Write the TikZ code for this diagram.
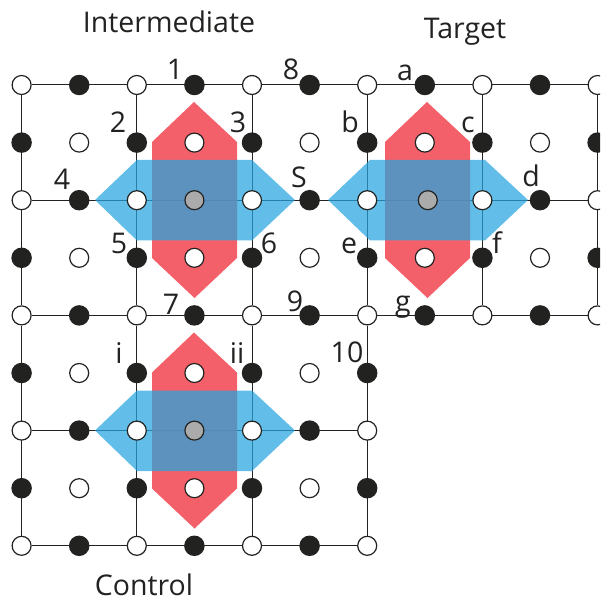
\documentclass[tikz,border=0pt]{standalone}
\usepackage{fontspec}
\setmainfont{Open Sans}
\usetikzlibrary{backgrounds}
\definecolor{inkc}{HTML}{222221}
\definecolor{patchred}{HTML}{F24450}
\definecolor{patchblue}{HTML}{25A5DF}
\tikzset{
    measqubit/.style = {circle, draw=inkc, fill=white, line width=1.2pt, minimum size=19pt, inner sep=0pt},
    dataqubit/.style = {circle, fill=inkc, minimum size=20.5pt, inner sep=0pt},
    centerqubit/.style = {circle, draw=inkc, fill=black!33, line width=1.2pt, minimum size=19pt, inner sep=0pt},
    targetqubit/.style = {centerqubit, xshift=3pt},
    gridline/.style = {draw=inkc, line width=1pt},
    lbl/.style = {anchor=base, inner sep=0pt, text=inkc, font=\fontsize{28.5}{32}\selectfont}
}
\begin{document}
\begin{tikzpicture}[x=1pt,y=-1pt]
    \path[use as bounding box,clip] (0,0) rectangle (600,601);

    % qubits
    \foreach \r in {0,...,8} {
        \pgfmathtruncatemacro\last{\r<5 ? 10 : 6}
        \foreach \c in {0,...,\last} {
            \pgfmathtruncatemacro\odd{mod(\c+\r,2)}
            \ifnum\odd=1 \def\kind{dataqubit}\else\def\kind{measqubit}\fi
            \ifnum\c\r=32 \def\kind{centerqubit}\fi
            \ifnum\c\r=72 \def\kind{targetqubit}\fi
            \ifnum\c\r=36 \def\kind{centerqubit}\fi
            \node[\kind] (n-\c-\r) at ({21.6+57.6*\c},{85+57.6*\r}) {};
        }
    }

    \begin{scope}[on background layer]
        % lattice
        \foreach \r in {0,2,4}
            \draw[gridline] (n-0-\r) -- (n-10-\r);
        \foreach \r in {6,8}
            \draw[gridline] (n-0-\r) -- (n-6-\r);
        \foreach \c in {0,2,4,6,8,10}
            \draw[gridline] (n-\c-0) -- (n-\c-4);
        \foreach \c in {0,2,4,6}
            \draw[gridline] (n-\c-4) -- (n-\c-8);

        % patches
        \foreach \dx/\dy in {0/0,233/0,0/230.5} {
            \fill[patchred, opacity=0.85, shift={(\dx,\dy)}]
                (194,102) -- (237,142) -- (237,258) -- (194.5,298) -- (152,258) -- (152,142) -- cycle;
            \fill[patchblue, opacity=0.72, shift={(\dx,\dy)}]
                (95,200) -- (137,160) -- (252,160) -- (295,200) -- (252,240.5) -- (137,240.5) -- cycle;
        }
    \end{scope}

    % titles
    \node[lbl] (intermediate) at (169,33) {Intermediate};
    \node[lbl] (target) at (465,39) {Target};
    \node[lbl] (control) at (144,595) {Control};

    % labels
    \node[lbl] (l1) at (175,80) {1};
    \node[lbl] (l2) at (118,133) {2};
    \node[lbl] (l3) at (238,133) {3};
    \node[lbl] (l4) at (62,190) {4};
    \node[lbl] (lS) at (299,188) {S};
    \node[lbl] (l5) at (119,254) {5};
    \node[lbl] (l6) at (269,254) {6};
    \node[lbl] (l7) at (171,314) {7};
    \node[lbl] (l8) at (291,80) {8};
    \node[lbl] (l9) at (295,311) {9};
    \node[lbl] (l10) at (347,362) {10};

    \node[lbl] (la) at (405,81) {a};
    \node[lbl] (lb) at (350,133) {b};
    \node[lbl] (lc) at (468,133) {c};
    \node[lbl] (ld) at (531,187) {d};
    \node[lbl] (le) at (349,254) {e};
    \node[lbl] (lf) at (497,253) {f};
    \node[lbl] (lg) at (403,311) {g};

    \node[lbl] (li) at (119,363) {i};
    \node[lbl] (lii) at (237,363) {ii};
\end{tikzpicture}
\end{document}
